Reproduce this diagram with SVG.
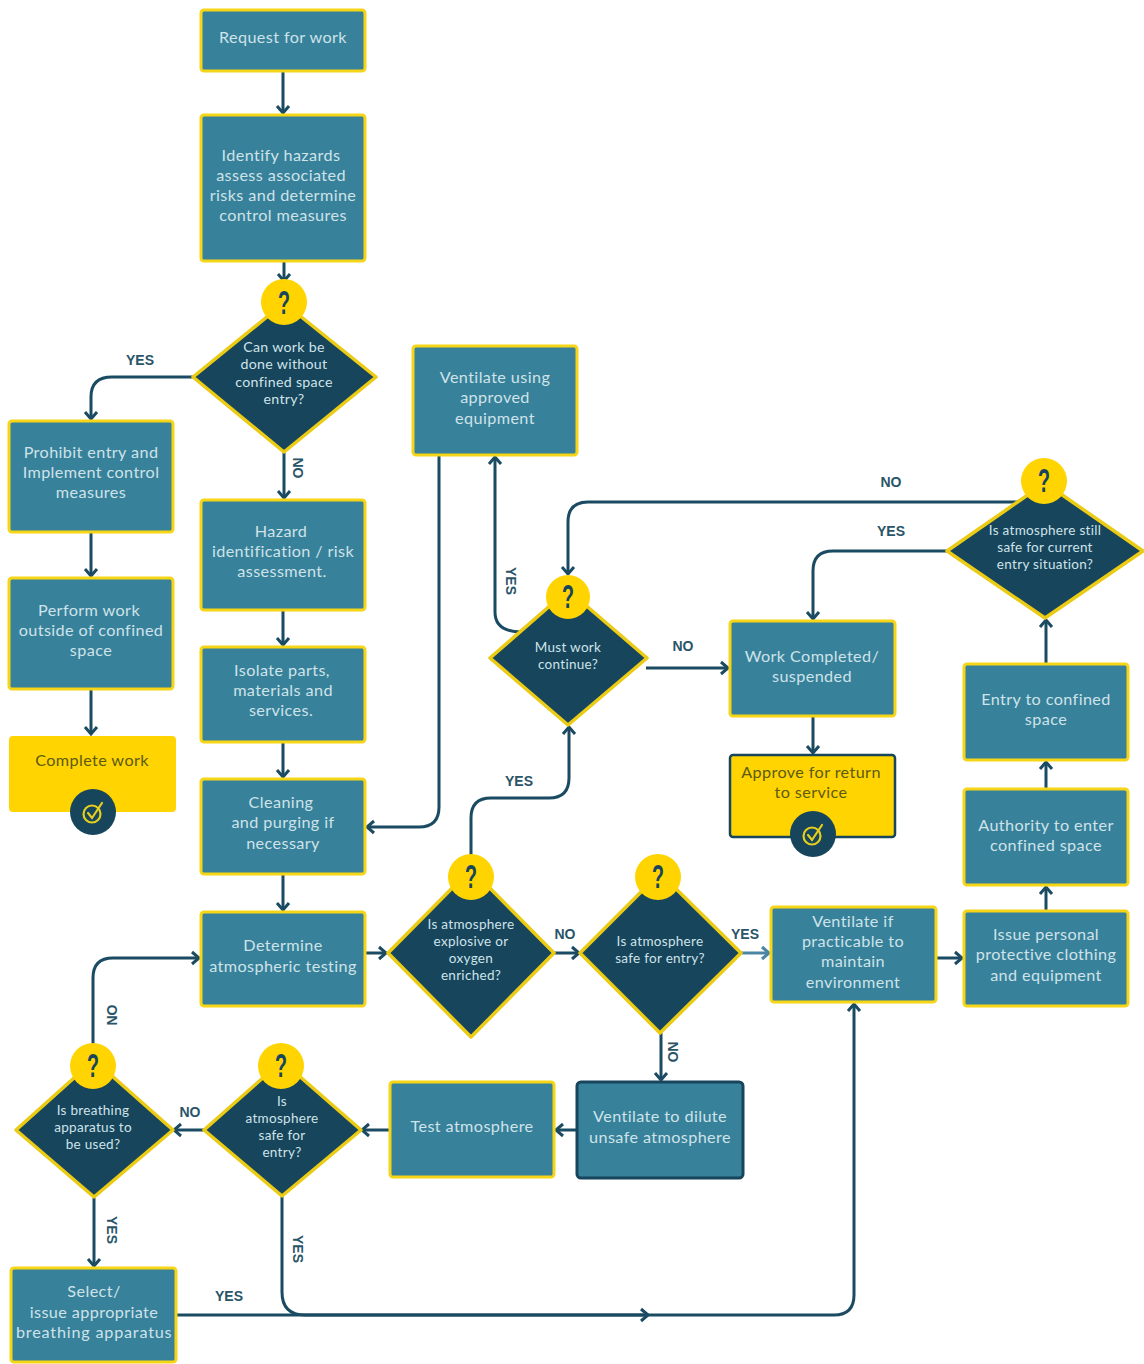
<svg xmlns="http://www.w3.org/2000/svg" width="1144" height="1364" viewBox="0 0 1144 1364">
<style>
.b{fill:#37819A;stroke:#F5D516;stroke-width:3}
.d{fill:#16455C;stroke:#EBCB14;stroke-width:3.5;stroke-linejoin:round}
.y{fill:#FFD400}
.t{font-family:Lato,"Liberation Sans",sans-serif;font-size:16.2px;fill:#CFE3E9;text-anchor:middle;letter-spacing:.4px}
.s{font-size:13.5px;letter-spacing:.3px}
.w{font-size:14.2px}
.k{fill:#5C5A14}
.q{font-family:"Liberation Sans",sans-serif;font-weight:700;font-size:33px;fill:#16455C;text-anchor:middle}
.l{font-family:"Liberation Sans",sans-serif;font-weight:700;font-size:14px;fill:#2A5468;text-anchor:middle}
.c{fill:none;stroke:#1B4B63;stroke-width:3;stroke-linejoin:round}
.ck{fill:none;stroke:#E6CE1E;stroke-width:2.2;stroke-linecap:round}
</style>
<defs>
<marker id="a" markerUnits="userSpaceOnUse" markerWidth="16" markerHeight="16" refX="12" refY="8" orient="auto"><path d="M5 2L12 8L5 14" fill="none" stroke="#1B4B63" stroke-width="3"/></marker>
<marker id="a2" markerUnits="userSpaceOnUse" markerWidth="16" markerHeight="16" refX="12" refY="8" orient="auto"><path d="M5 2L12 8L5 14" fill="none" stroke="#4A86A4" stroke-width="3"/></marker>
<g id="chk"><circle r="23" fill="#16455C"/><circle cx="-1" cy="2" r="8.5" class="ck"/><path class="ck" d="M-5 1L-1 6L9-9"/></g>
</defs>
<g id="connectors">
<path class="c" marker-end="url(#a)" d="M283 71V113"/>
<path class="c" marker-end="url(#a)" d="M284 261V281"/>
<path class="c" marker-end="url(#a)" d="M193 377H112Q91 377 91 397V419"/>
<path class="c" marker-end="url(#a)" d="M284 452V498"/>
<path class="c" marker-end="url(#a)" d="M91 532V576"/>
<path class="c" marker-end="url(#a)" d="M91 689V734"/>
<path class="c" marker-end="url(#a)" d="M283 610V645"/>
<path class="c" marker-end="url(#a)" d="M283 742V777"/>
<path class="c" marker-end="url(#a)" d="M283 874V910"/>
<path class="c" marker-end="url(#a)" d="M439 455V807Q439 827 419 827H367"/>
<path class="c" marker-end="url(#a)" d="M365 953H386"/>
<path class="c" marker-end="url(#a)" d="M471 856V818Q471 798 491 798H549Q569 798 569 778V727"/>
<path class="c" marker-end="url(#a)" d="M554 953H579"/>
<path class="c" style="stroke:#4A86A4" marker-end="url(#a2)" d="M741 953H769"/>
<path class="c" marker-end="url(#a)" d="M936 958H962"/>
<path class="c" marker-end="url(#a)" d="M1046 911V887"/>
<path class="c" marker-end="url(#a)" d="M1046 789V762"/>
<path class="c" marker-end="url(#a)" d="M1046 664V620"/>
<path class="c" marker-end="url(#a)" d="M1025 502H588Q568 502 568 522V574"/>
<path class="c" marker-end="url(#a)" d="M950 551H833Q813 551 813 571V619"/>
<path class="c" marker-end="url(#a)" d="M522 632Q495 632 495 612V457"/>
<path class="c" marker-end="url(#a)" d="M646 668H728"/>
<path class="c" marker-end="url(#a)" d="M813 716V753"/>
<path class="c" marker-end="url(#a)" d="M661 1033V1080"/>
<path class="c" marker-end="url(#a)" d="M577 1130H556"/>
<path class="c" marker-end="url(#a)" d="M390 1130H362"/>
<path class="c" marker-end="url(#a)" d="M204 1130H174"/>
<path class="c" marker-end="url(#a)" d="M93 1045V978Q93 958 113 958H199"/>
<path class="c" marker-end="url(#a)" d="M94 1198V1266"/>
<path class="c" marker-end="url(#a)" d="M282 1197V1292Q282 1315 305 1315H648"/>
<path class="c" marker-end="url(#a)" d="M176 1315H834Q854 1315 854 1295V1004"/>
</g>
<g id="labels">
<text class="l" x="140" y="365">YES</text>
<text class="l" transform="translate(293 468) rotate(90)">NO</text>
<text class="l" x="891" y="487">NO</text>
<text class="l" x="891" y="536">YES</text>
<text class="l" transform="translate(506 581) rotate(90)">YES</text>
<text class="l" x="683" y="651">NO</text>
<text class="l" x="519" y="786">YES</text>
<text class="l" x="565" y="939">NO</text>
<text class="l" x="745" y="939">YES</text>
<text class="l" transform="translate(668 1052) rotate(90)">NO</text>
<text class="l" x="190" y="1117">NO</text>
<text class="l" transform="translate(117 1015) rotate(-90)">NO</text>
<text class="l" transform="translate(107 1230) rotate(90)">YES</text>
<text class="l" transform="translate(293 1249) rotate(90)">YES</text>
<text class="l" x="229" y="1301">YES</text>
</g>
<g id="n-request"><rect class="b" x="201" y="10" width="164" height="61" rx="3"/><text class="t" x="283" y="43">Request for work</text></g>
<g id="n-identify"><rect class="b" x="201" y="115" width="164" height="146" rx="3"/><text class="t" x="281" y="161">Identify hazards</text><text class="t" x="281" y="181">assess associated</text><text class="t" x="283" y="201">risks and determine</text><text class="t" x="283" y="221">control measures</text></g>
<g id="n-prohibit"><rect class="b" x="9" y="421" width="164" height="111" rx="3"/><text class="t" x="91" y="458">Prohibit entry and</text><text class="t" x="91" y="478">Implement control</text><text class="t" x="91" y="498">measures</text></g>
<g id="n-perform"><rect class="b" x="9" y="578" width="164" height="111" rx="3"/><text class="t" x="89" y="616">Perform work</text><text class="t" x="91" y="636">outside of confined</text><text class="t" x="91" y="656">space</text></g>
<g id="n-complete"><rect class="y" x="9" y="736" width="167" height="76" rx="4"/><text class="t k" x="92" y="766">Complete work</text><use href="#chk" x="93" y="812"/></g>
<g id="n-hazard"><rect class="b" x="201" y="500" width="164" height="110" rx="3"/><text class="t" x="281" y="537">Hazard</text><text class="t" x="283" y="557">identification / risk</text><text class="t" x="282" y="577">assessment.</text></g>
<g id="n-isolate"><rect class="b" x="201" y="647" width="164" height="95" rx="3"/><text class="t" x="282" y="676">Isolate parts,</text><text class="t" x="283" y="696">materials and</text><text class="t" x="281" y="716">services.</text></g>
<g id="n-cleaning"><rect class="b" x="201" y="779" width="164" height="95" rx="3"/><text class="t" x="281" y="808">Cleaning</text><text class="t" x="283" y="828">and purging if</text><text class="t" x="283" y="849">necessary</text></g>
<g id="n-determine"><rect class="b" x="201" y="912" width="164" height="94" rx="3"/><text class="t" x="283" y="951">Determine</text><text class="t" x="283" y="972">atmospheric testing</text></g>
<g id="n-ventuse"><rect class="b" x="413" y="346" width="164" height="109" rx="3"/><text class="t" x="495" y="383">Ventilate using</text><text class="t" x="495" y="403">approved</text><text class="t" x="495" y="424">equipment</text></g>
<g id="n-done"><rect class="b" x="730" y="621" width="165" height="95" rx="3"/><text class="t" x="812" y="662">Work Completed/</text><text class="t" x="812" y="682">suspended</text></g>
<g id="n-approve"><rect class="y" x="730" y="755" width="165" height="82" rx="3" stroke="#16455C" stroke-width="2.5"/><text class="t k" x="811" y="778">Approve for return</text><text class="t k" x="811" y="798">to service</text><use href="#chk" x="813" y="834"/></g>
<g id="n-entry"><rect class="b" x="964" y="664" width="164" height="96" rx="3"/><text class="t" x="1046" y="705">Entry to confined</text><text class="t" x="1046" y="725">space</text></g>
<g id="n-auth"><rect class="b" x="964" y="789" width="164" height="96" rx="3"/><text class="t" x="1046" y="831">Authority to enter</text><text class="t" x="1046" y="851">confined space</text></g>
<g id="n-issue"><rect class="b" x="964" y="911" width="164" height="95" rx="3"/><text class="t" x="1046" y="940">Issue personal</text><text class="t" x="1046" y="960">protective clothing</text><text class="t" x="1046" y="981">and equipment</text></g>
<g id="n-ventif"><rect class="b" x="771" y="907" width="165" height="95" rx="3"/><text class="t" x="853" y="927">Ventilate if</text><text class="t" x="853" y="947">practicable to</text><text class="t" x="853" y="967">maintain</text><text class="t" x="853" y="988">environment</text></g>
<g id="n-dilute"><rect x="577" y="1082" width="166" height="96" rx="4" fill="#37819A" stroke="#16455C" stroke-width="3"/><text class="t" x="660" y="1122">Ventilate to dilute</text><text class="t" x="660" y="1143">unsafe atmosphere</text></g>
<g id="n-test"><rect class="b" x="390" y="1082" width="164" height="95" rx="3"/><text class="t" x="472" y="1132">Test atmosphere</text></g>
<g id="n-select"><rect class="b" x="11" y="1268" width="165" height="94" rx="3"/><text class="t" x="94" y="1297">Select/</text><text class="t" x="94" y="1318">issue appropriate</text><text class="t" x="94" y="1338" textLength="156">breathing apparatus</text></g>
<g id="d-without"><path class="d" d="M284 303L376 377L284 452L193 377Z"/><circle class="y" cx="284" cy="302" r="23"/><text class="q" x="284" y="314" textLength="12" lengthAdjust="spacingAndGlyphs">?</text><text class="t s w" x="284" y="352">Can work be</text><text class="t s w" x="284" y="369">done without</text><text class="t s w" x="284" y="387">confined space</text><text class="t s w" x="284" y="404">entry?</text></g>
<g id="d-must"><path class="d" d="M568 590L647 658L568 725L490 658Z"/><circle class="y" cx="568" cy="597" r="22"/><text class="q" x="568" y="608" textLength="12" lengthAdjust="spacingAndGlyphs">?</text><text class="t s" x="568" y="652">Must work</text><text class="t s" x="568" y="669">continue?</text></g>
<g id="d-still"><path class="d" d="M1045 483L1143 551L1045 618L947 551Z"/><circle class="y" cx="1044" cy="481" r="23"/><text class="q" x="1044" y="492" textLength="12" lengthAdjust="spacingAndGlyphs">?</text><text class="t s" x="1045" y="535">Is atmosphere still</text><text class="t s" x="1045" y="552">safe for current</text><text class="t s" x="1045" y="569">entry situation?</text></g>
<g id="d-explosive"><path class="d" d="M471 869L554 953L471 1037L388 953Z"/><circle class="y" cx="471" cy="877" r="23"/><text class="q" x="471" y="888" textLength="12" lengthAdjust="spacingAndGlyphs">?</text><text class="t s" x="471" y="929">Is atmosphere</text><text class="t s" x="471" y="946">explosive or</text><text class="t s" x="471" y="963">oxygen</text><text class="t s" x="471" y="980">enriched?</text></g>
<g id="d-safe"><path class="d" d="M660 873L741 953L660 1033L580 953Z"/><circle class="y" cx="658" cy="877" r="23"/><text class="q" x="658" y="888" textLength="12" lengthAdjust="spacingAndGlyphs">?</text><text class="t s" x="660" y="946">Is atmosphere</text><text class="t s" x="660" y="963">safe for entry?</text></g>
<g id="d-atmos"><path class="d" d="M282 1061L361 1130L282 1196L204 1130Z"/><circle class="y" cx="281" cy="1066" r="23"/><text class="q" x="281" y="1077" textLength="12" lengthAdjust="spacingAndGlyphs">?</text><text class="t s" x="282" y="1106">Is</text><text class="t s" x="282" y="1123">atmosphere</text><text class="t s" x="282" y="1140">safe for</text><text class="t s" x="282" y="1157">entry?</text></g>
<g id="d-breath"><path class="d" d="M94 1060L173 1130L94 1197L16 1130Z"/><circle class="y" cx="93" cy="1066" r="23"/><text class="q" x="93" y="1077" textLength="12" lengthAdjust="spacingAndGlyphs">?</text><text class="t s" x="93" y="1115">Is breathing</text><text class="t s" x="93" y="1132">apparatus to</text><text class="t s" x="93" y="1149">be used?</text></g>
</svg>
